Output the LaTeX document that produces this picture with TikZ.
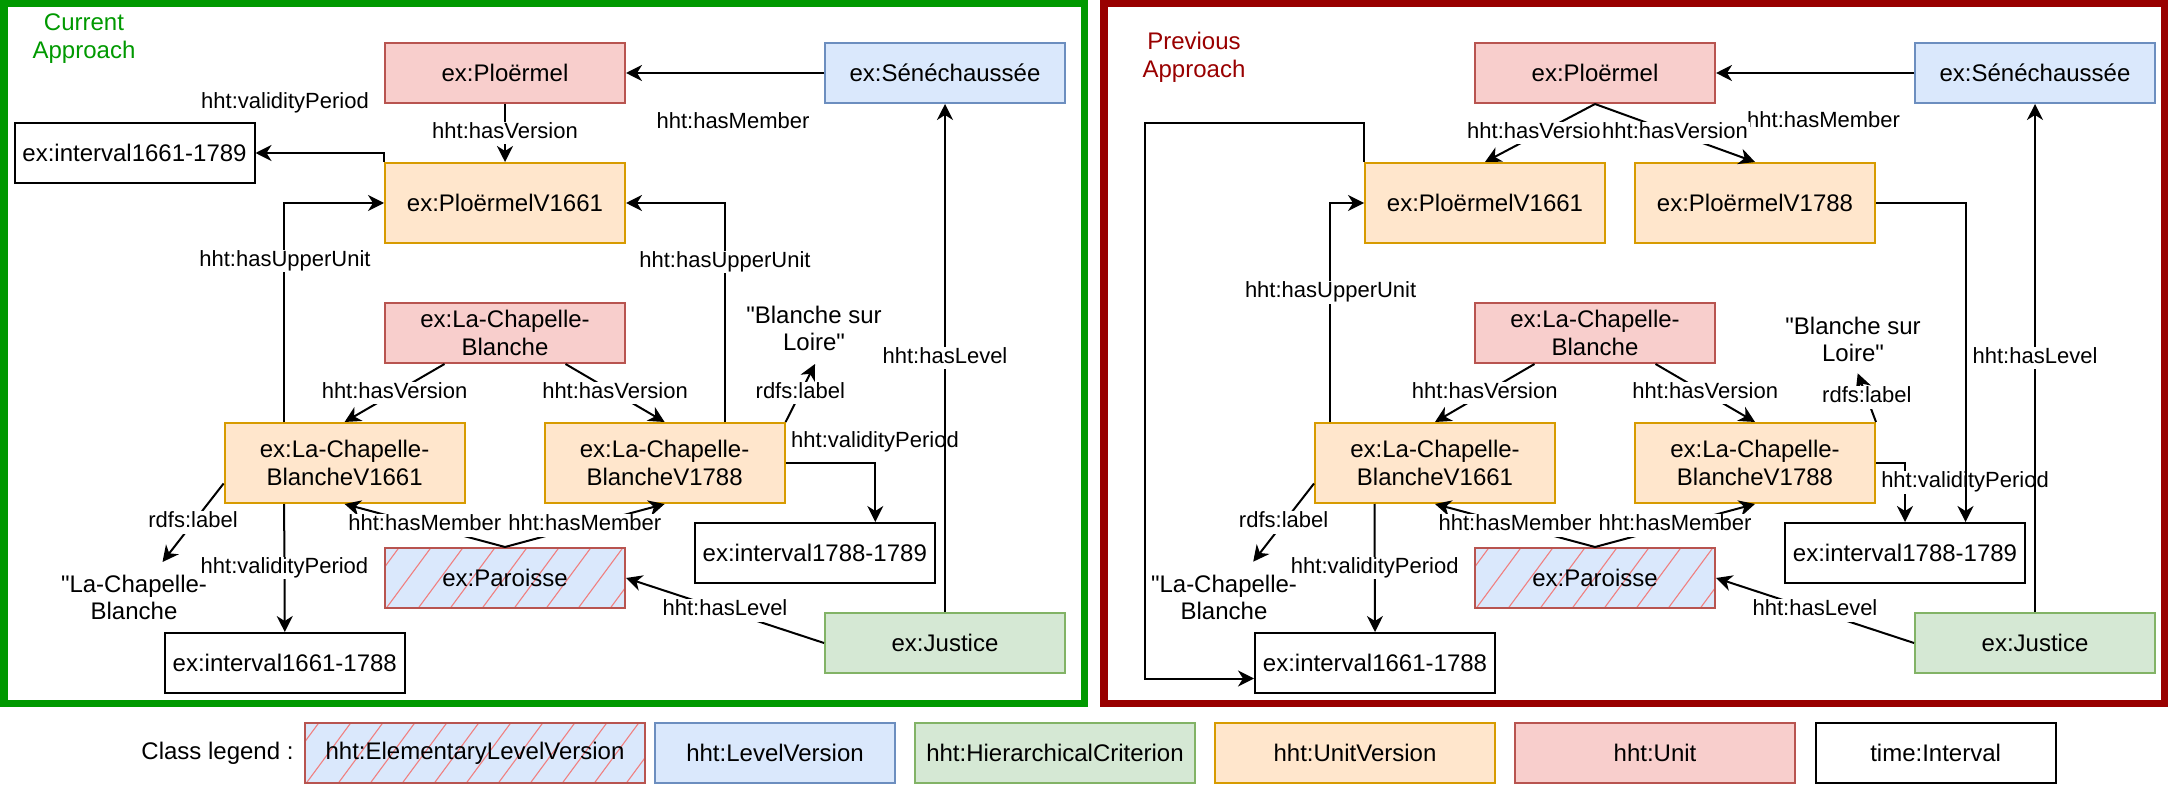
\documentclass[tikz,border=0pt]{standalone}
\usepackage{fontspec}
\setmainfont{Liberation Sans}
\usetikzlibrary{arrows.meta,calc}
\definecolor{unitF}{HTML}{F8CECC}\definecolor{unitD}{HTML}{B85450}
\definecolor{uvF}{HTML}{FFE6CC}\definecolor{uvD}{HTML}{D79B00}
\definecolor{lvF}{HTML}{DAE8FC}\definecolor{lvD}{HTML}{6C8EBF}
\definecolor{hcF}{HTML}{D5E8D4}\definecolor{hcD}{HTML}{82B366}
\definecolor{hatchC}{HTML}{F08080}
\definecolor{frameG}{HTML}{009900}\definecolor{frameR}{HTML}{990000}
\begin{document}
\begin{tikzpicture}[x=0.5pt,y=-0.5pt,
  box/.style={draw, line width=1pt, minimum width=120pt, minimum height=30pt, inner sep=0pt, align=center, font=\fontsize{12pt}{13.8pt}\selectfont},
  tall/.style={minimum height=40pt},
  unit/.style={box, fill=unitF, draw=unitD},
  uv/.style={box, tall, fill=uvF, draw=uvD},
  lv/.style={box, fill=lvF, draw=lvD},
  hc/.style={box, fill=hcF, draw=hcD},
  ival/.style={box, fill=white, draw=black},
  hatched/.style={path picture={\foreach \k in {0,...,14}{\draw[line width=0.55pt, hatchC] ($(path picture bounding box.south west)+(\k*32-70,10)$) -- ++(96,-130);}}},
  elv/.style={box, fill=lvF, draw=unitD, hatched},
  txt/.style={align=center, inner sep=0pt, font=\fontsize{12pt}{13.8pt}\selectfont},
  lbl/.style={fill=white, inner sep=1pt, font=\fontsize{11pt}{12.65pt}\selectfont, text height=0.73em, text depth=0.21em},
  conn/.style={line width=1pt, -{Stealth[length=8pt,width=8pt,inset=2.5pt]}},
  panel/.style={line width=3.75pt},
]
\useasboundingbox (0,0) rectangle (2168,786);
% panels
\draw[panel, draw=frameG] (3.75,3.75) rectangle (1084.25,703.25);
\draw[panel, draw=frameR] (1103.75,3.75) rectangle (2164.25,703.25);

% ---------------- green panel ----------------
\node[txt, text=frameG] (gTitle) at (84,38.5) {Current\\Approach};
\node[unit] (gPl) at (505,73) {ex:Ploërmel};
\node[lv] (gSen) at (945,73) {ex:Sénéchaussée};
\node[uv] (gPlA) at (505,203) {ex:PloërmelV1661};
\node[ival] (gI1) at (134.5,153) {ex:interval1661-1789};
\node[unit] (gLcb) at (505,333) {ex:La-Chapelle-\\Blanche};
\node[uv] (gLA) at (344.6,463) {ex:La-Chapelle-\\BlancheV1661};
\node[uv] (gLB) at (664.6,463) {ex:La-Chapelle-\\BlancheV1788};
\node[elv] (gPar) at (505,578) {ex:Paroisse};
\node[ival] (gI2) at (814.8,553) {ex:interval1788-1789};
\node[hc] (gJus) at (945,643) {ex:Justice};
\node[ival] (gI3) at (284.8,663) {ex:interval1661-1788};
\node[txt] (gT1) at (134,597.5) {\textquotedbl La-Chapelle-\\Blanche};
\node[txt] (gT2) at (814,328.5) {\textquotedbl Blanche sur\\Loire\textquotedbl};
\coordinate (gT1in) at (162.5,562);
\coordinate (gT2in) at (815,364);

\draw[conn] (gSen.west) -- (gPl.east);
\node[lbl] (gL1) at (733,123) {hht:hasMember};
\draw[conn] (gPl.south) -- (gPlA.north) node[lbl, midway] (gL2) {hht:hasVersion};
\draw[conn] (gPlA.north west) |- (gI1.east);
\node[lbl] (gL3) at (285,103) {hht:validityPeriod};
\draw[conn] ($(gLA.north west)!0.25!(gLA.north east)$) |- (gPlA.west);
\node[lbl] (gL4) at (285,261) {hht:hasUpperUnit};
\draw[conn] ($(gLB.north west)!0.75!(gLB.north east)$) |- (gPlA.east);
\node[lbl] (gL5) at (725,262) {hht:hasUpperUnit};
\draw[conn] ($(gLcb.south west)!0.25!(gLcb.south east)$) -- (gLA.north) node[lbl, midway] (gL6) {hht:hasVersion};
\draw[conn] ($(gLcb.south west)!0.75!(gLcb.south east)$) -- (gLB.north) node[lbl, midway] (gL7) {hht:hasVersion};
\draw[conn] (gPar.north) -- (gLA.south) node[lbl, midway] (gL8) {hht:hasMember};
\draw[conn] (gPar.north) -- (gLB.south) node[lbl, midway] (gL9) {hht:hasMember};
\draw[conn] ($(gLA.north west)!0.75!(gLA.south west)$) -- (gT1in) node[lbl, midway] (gL10) {rdfs:label};
\draw[conn] ($(gLA.south west)!0.25!(gLA.south east)$) -- (gI3.north) node[lbl, midway] (gL11) {hht:validityPeriod};
\draw[conn] (gLB.north east) -- (gT2in) node[lbl, midway] (gL12) {rdfs:label};
\draw[conn] (gLB.east) -| ($(gI2.north west)!0.75!(gI2.north east)$);
\node[lbl] (gL13) at (875,442.5) {hht:validityPeriod};
\draw[conn] (gJus.north) -- (gSen.south) node[lbl, midway] (gL14) {hht:hasLevel};
\draw[conn] (gJus.west) -- (gPar.east) node[lbl, midway] (gL15) {hht:hasLevel};

% ---------------- red panel ----------------
\node[txt, text=frameR] (rTitle) at (1194,57.5) {Previous\\Approach};
\node[unit] (rPl) at (1595,73) {ex:Ploërmel};
\node[lv] (rSen) at (2035,73) {ex:Sénéchaussée};
\node[uv] (rPlA) at (1485,203) {ex:PloërmelV1661};
\node[uv] (rPlB) at (1755,203) {ex:PloërmelV1788};
\node[unit] (rLcb) at (1595,333) {ex:La-Chapelle-\\Blanche};
\node[uv] (rLA) at (1435,463) {ex:La-Chapelle-\\BlancheV1661};
\node[uv] (rLB) at (1755,463) {ex:La-Chapelle-\\BlancheV1788};
\node[elv] (rPar) at (1595,578) {ex:Paroisse};
\node[ival] (rI2) at (1905,553) {ex:interval1788-1789};
\node[hc] (rJus) at (2035,643) {ex:Justice};
\node[ival] (rI3) at (1375,663) {ex:interval1661-1788};
\node[txt] (rT1) at (1224,597.5) {\textquotedbl La-Chapelle-\\Blanche};
\node[txt] (rT2) at (1853,339.5) {\textquotedbl Blanche sur\\Loire\textquotedbl};
\coordinate (rT1in) at (1253.2,561.7);
\coordinate (rT2in) at (1857.7,373.3);
\coordinate (rLoop) at (1145,123);

\draw[conn] (rSen.west) -- (rPl.east);
\node[lbl] (rL1) at (1823.6,122.5) {hht:hasMember};
\draw[conn] (rPl.south) -- (rPlA.north) node[lbl, midway] (rL2) {hht:hasVersion};
\draw[conn] (rPl.south) -- (rPlB.north) node[lbl, midway] (rL3) {hht:hasVersion};
\draw[conn] (rPlA.north west) |- (rLoop) |- ($(rI3.north west)!0.75!(rI3.south west)$);
\draw[conn] ($(rLA.north west)+(16,0)$) |- (rPlA.west);
\node[lbl] (rL4) at (1330.6,292.5) {hht:hasUpperUnit};
\draw[conn] ($(rLcb.south west)!0.25!(rLcb.south east)$) -- (rLA.north) node[lbl, midway] (rL5) {hht:hasVersion};
\draw[conn] ($(rLcb.south west)!0.75!(rLcb.south east)$) -- (rLB.north) node[lbl, midway] (rL6) {hht:hasVersion};
\draw[conn] (rPar.north) -- (rLA.south) node[lbl, midway] (rL7) {hht:hasMember};
\draw[conn] (rPar.north) -- (rLB.south) node[lbl, midway] (rL8) {hht:hasMember};
\draw[conn] ($(rLA.north west)!0.75!(rLA.south west)$) -- (rT1in) node[lbl, midway] (rL9) {rdfs:label};
\draw[conn] ($(rLA.south west)!0.25!(rLA.south east)$) -- (rI3.north) node[lbl, midway] (rL10) {hht:validityPeriod};
\draw[conn] (rLB.north east) -- (rT2in) node[lbl, midway] (rL11) {rdfs:label};
\draw[conn] (rLB.east) -| (rI2.north);
\node[lbl] (rL12) at (1965,482.5) {hht:validityPeriod};
\draw[conn] (rPlB.east) -| ($(rI2.north west)!0.75!(rI2.north east)$);
\draw[conn] (rJus.north) -- (rSen.south) node[lbl, midway] (rL13) {hht:hasLevel};
\draw[conn] (rJus.west) -- (rPar.east) node[lbl, midway] (rL14) {hht:hasLevel};

% ---------------- legend ----------------
\node[txt] (legT) at (217.5,753) {Class legend :};
\node[elv, minimum width=170pt] (leg1) at (475,753) {hht:ElementaryLevelVersion};
\node[lv] (leg2) at (775,753) {hht:LevelVersion};
\node[hc, minimum width=140pt] (leg3) at (1055,753) {hht:HierarchicalCriterion};
\node[uv, minimum height=30pt, minimum width=140pt] (leg4) at (1355,753) {hht:UnitVersion};
\node[unit, minimum width=140pt] (leg5) at (1655,753) {hht:Unit};
\node[ival] (leg6) at (1935.6,753) {time:Interval};
\end{tikzpicture}
\end{document}
